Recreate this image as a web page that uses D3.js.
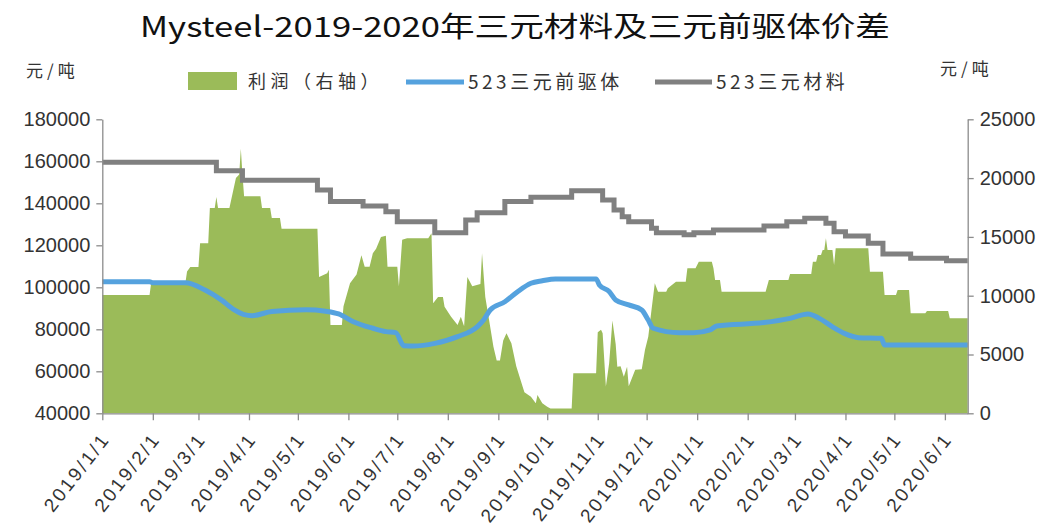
<!DOCTYPE html>
<html><head><meta charset="utf-8">
<script src="https://cdn.jsdelivr.net/npm/d3@7"></script>
<style>body{margin:0;background:#fff} svg{display:block}</style>
</head><body>
<svg id="c" width="1052" height="529"></svg>
<script>
const titleText = "Mysteel-2019-2020年三元材料及三元前驱体价差";
const seriesNames = ["利润（右轴）", "523三元前驱体", "523三元材料"];
const unitText = "元/吨";
const xTickDates = ["2019-01-01","2019-02-01","2019-03-01","2019-04-01","2019-05-01","2019-06-01","2019-07-01","2019-08-01","2019-09-01","2019-10-01","2019-11-01","2019-12-01","2020-01-01","2020-02-01","2020-03-01","2020-04-01","2020-05-01","2020-06-01"];
const xTickLabels = ["2019/1/1","2019/2/1","2019/3/1","2019/4/1","2019/5/1","2019/6/1","2019/7/1","2019/8/1","2019/9/1","2019/10/1","2019/11/1","2019/12/1","2020/1/1","2020/2/1","2020/3/1","2020/4/1","2020/5/1","2020/6/1"];
const leftTicks = [40000,60000,80000,100000,120000,140000,160000,180000];
const rightTicks = [0,5000,10000,15000,20000,25000];
const dateDomain = ["2019-01-01","2020-06-15"];

// 利润（右轴）
const profitSeries = [
["2019-01-01",10050],["2019-01-30",10050],["2019-01-31",11100],["2019-02-21",11100],["2019-02-22",12050],["2019-02-24",12450],
["2019-03-01",12450],["2019-03-02",14450],["2019-03-07",14450],["2019-03-08",17450],["2019-03-11",17450],["2019-03-12",18400],
["2019-03-13",17450],["2019-03-20",17450],["2019-03-24",20000],["2019-03-26",20300],["2019-03-27",22500],["2019-03-28",20300],
["2019-03-29",18450],["2019-04-08",18450],["2019-04-09",17450],["2019-04-14",17450],["2019-04-15",16600],["2019-04-20",16600],
["2019-04-21",15700],["2019-05-13",15700],["2019-05-14",11600],["2019-05-19",11900],["2019-05-20",12200],["2019-05-21",7500],
["2019-05-28",7500],["2019-05-29",9100],["2019-06-02",11050],["2019-06-06",11800],["2019-06-09",13450],["2019-06-11",12470],
["2019-06-14",12470],["2019-06-16",13600],["2019-06-18",14000],["2019-06-21",15000],["2019-06-24",15100],["2019-06-25",12470],
["2019-07-01",12470],["2019-07-02",10800],["2019-07-04",14750],["2019-07-07",14880],["2019-07-20",14880],["2019-07-22",15300],
["2019-07-23",9350],["2019-07-26",9900],["2019-07-29",9900],["2019-07-30",9070],["2019-08-03",8200],["2019-08-07",7500],
["2019-08-09",8200],["2019-08-11",7400],["2019-08-13",11600],["2019-08-16",10800],["2019-08-21",11000],["2019-08-22",13600],
["2019-08-24",9900],["2019-08-26",8200],["2019-08-29",5650],["2019-08-31",4500],["2019-09-02",4500],["2019-09-04",6200],
["2019-09-06",6800],["2019-09-09",5950],["2019-09-12",4000],["2019-09-17",1800],["2019-09-21",1400],["2019-09-24",850],
["2019-09-25",1560],["2019-09-28",850],["2019-10-01",560],["2019-10-03",400],["2019-10-16",400],["2019-10-17",3400],
["2019-10-31",3400],["2019-11-01",6900],["2019-11-03",7100],["2019-11-04",6800],["2019-11-06",2270],["2019-11-08",4250],
["2019-11-10",7900],["2019-11-12",5900],["2019-11-13",3960],["2019-11-15",4000],["2019-11-17",3100],["2019-11-19",3960],
["2019-11-20",2300],["2019-11-24",3700],["2019-11-28",3750],["2019-11-30",5400],["2019-12-02",6500],["2019-12-04",8800],
["2019-12-06",11050],["2019-12-08",10340],["2019-12-13",10340],["2019-12-14",10630],["2019-12-19",11190],["2019-12-25",11190],
["2019-12-26",12330],["2019-12-31",12330],["2020-01-02",12890],["2020-01-10",12890],["2020-01-11",12330],["2020-01-12",11340],
["2020-01-15",11340],["2020-01-16",10340],["2020-02-12",10340],["2020-02-14",11340],["2020-02-26",11340],["2020-02-27",11850],
["2020-03-11",11850],["2020-03-12",12890],["2020-03-14",12890],["2020-03-15",13460],["2020-03-17",13460],["2020-03-18",13890],
["2020-03-19",13890],["2020-03-20",14880],["2020-03-21",13890],["2020-03-24",13890],["2020-03-25",12610],["2020-03-26",14030],
["2020-04-15",14030],["2020-04-16",12040],["2020-04-24",12040],["2020-04-25",10060],["2020-05-02",10060],["2020-05-03",10490],
["2020-05-10",10490],["2020-05-11",8500],["2020-05-20",8500],["2020-05-21",8700],["2020-06-03",8700],["2020-06-04",8080],
["2020-06-15",8080]
];

// 523三元前驱体（左轴）
const precursorSeries = [
["2019-01-01",102700],["2019-01-30",102700],["2019-02-01",102200],["2019-02-21",102200],["2019-03-05",98700],["2019-03-15",94000],
["2019-03-23",89200],["2019-03-29",87000],["2019-04-03",86500],["2019-04-15",88500],["2019-05-06",89300],["2019-05-18",88600],
["2019-05-26",87300],["2019-06-04",83600],["2019-06-16",80500],["2019-06-24",78900],["2019-06-30",78400],["2019-07-05",72200],
["2019-07-11",72000],["2019-07-24",73300],["2019-08-07",76500],["2019-08-19",81200],["2019-08-23",84400],["2019-08-27",89200],
["2019-09-05",93100],["2019-09-13",98000],["2019-09-21",101900],["2019-09-28",103100],["2019-10-06",104000],["2019-10-31",104000],
["2019-11-02",101100],["2019-11-08",98000],["2019-11-12",94000],["2019-11-20",91600],["2019-11-28",89200],["2019-12-02",84400],
["2019-12-05",80500],["2019-12-21",78400],["2019-12-30",78400],["2020-01-09",79700],["2020-01-13",81600],["2020-02-11",83200],
["2020-02-27",85200],["2020-03-09",87300],["2020-03-16",85200],["2020-03-24",81200],["2020-04-01",77800],["2020-04-09",76000],
["2020-04-23",75700],["2020-04-25",72500],["2020-06-15",72500]
];

// 523三元材料（左轴）
const materialSeries = [
["2019-01-01",159500],["2019-03-12",155500],["2019-03-28",151000],["2019-05-13",146300],["2019-05-21",140800],["2019-06-10",138700],
["2019-06-24",136000],["2019-07-01",131200],["2019-07-24",126000],["2019-08-12",132000],["2019-08-19",135500],["2019-09-05",140800],
["2019-09-21",142900],["2019-10-16",146000],["2019-11-04",141600],["2019-11-11",136800],["2019-11-16",133600],["2019-11-20",131200],
["2019-12-04",128100],["2019-12-07",126000],["2019-12-24",125000],["2019-12-30",126000],["2020-01-11",127300],["2020-02-11",129200],
["2020-02-25",131200],["2020-03-07",132900],["2020-03-20",130500],["2020-03-25",126500],["2020-04-01",124400],["2020-04-15",121000],
["2020-04-24",115900],["2020-05-11",113800],["2020-06-02",112700],["2020-06-15",112700]
];

const colors = {profit:"#9BBB59", precursor:"#55A2DE", material:"#808080", axis:"#8C8C8C", text:"#333333"};
const parse = d3.timeParse("%Y-%m-%d");
const toObj = s => s.map(([d,v]) => ({date: parse(d), v}));
const profit = toObj(profitSeries), precursor = toObj(precursorSeries), material = toObj(materialSeries);

const svg = d3.select("#c");
const L = 102.3, R = 967.7, T = 119.3, B = 413.3;
const x = d3.scaleTime().domain(dateDomain.map(parse)).range([L, R]);
const yL = d3.scaleLinear().domain([40000,180000]).range([B, T]);
const yR = d3.scaleLinear().domain([0,25000]).range([B, T]);

const font = "'Liberation Sans', Arial, sans-serif";
const cjk = "'Noto Sans CJK SC', 'Noto Sans', sans-serif";

// Title
svg.append("text").attr("x", 140).attr("y", 37)
  .attr("textLength", 750).attr("lengthAdjust", "spacingAndGlyphs")
  .attr("font-family", cjk).attr("font-size", 28).attr("font-weight", 400).attr("fill", "#111")
  .text(titleText);

// Units
svg.append("text").attr("x", 26).attr("y", 77).attr("font-family", cjk).attr("font-size", 17).attr("letter-spacing", 4).attr("fill", colors.text).text(unitText);
svg.append("text").attr("x", 940).attr("y", 75).attr("font-family", cjk).attr("font-size", 17).attr("letter-spacing", 4).attr("fill", colors.text).text(unitText);

// Area
svg.append("path").datum(profit)
  .attr("fill", colors.profit)
  .attr("d", d3.area().x(d => x(d.date)).y0(yR(0)).y1(d => yR(d.v)));

// Lines
svg.append("path").datum(precursor)
  .attr("fill", "none").attr("stroke", colors.precursor).attr("stroke-width", 5).attr("stroke-linejoin", "round")
  .attr("d", d3.line().x(d => x(d.date)).y(d => yL(d.v)).curve(d3.curveMonotoneX));
svg.append("path").datum(material)
  .attr("fill", "none").attr("stroke", colors.material).attr("stroke-width", 5)
  .attr("d", d3.line().x(d => x(d.date)).y(d => yL(d.v)).curve(d3.curveStepAfter));

// Axes
function styleAxis(g){
  g.select(".domain").attr("stroke", colors.axis).attr("stroke-width", 1.3);
  g.selectAll(".tick line").attr("stroke", colors.axis).attr("stroke-width", 1.3);
  g.selectAll(".tick text").attr("fill", colors.text).attr("font-family", font).attr("font-size", 20);
}
svg.append("g").attr("transform", `translate(${L},0)`)
  .call(d3.axisLeft(yL).tickValues(leftTicks).tickSize(6).tickSizeOuter(0).tickPadding(6).tickFormat(d3.format("d")))
  .call(styleAxis);
svg.append("g").attr("transform", `translate(${R},0)`)
  .call(d3.axisRight(yR).tickValues(rightTicks).tickSize(6).tickSizeOuter(0).tickPadding(6).tickFormat(d3.format("d")))
  .call(styleAxis);
const xAxis = svg.append("g").attr("transform", `translate(0,${B})`)
  .call(d3.axisBottom(x).tickValues(xTickDates.map(parse)).tickSize(7).tickSizeOuter(0).tickFormat((d,i) => xTickLabels[i]))
  .call(styleAxis);
xAxis.selectAll(".tick text")
  .attr("text-anchor", "end").attr("dy", 0).attr("y", 0)
  .attr("transform", "translate(8,26) rotate(-52)")
  .attr("font-size", 19).attr("letter-spacing", 2.5);

// Legend
const lg = svg.append("g");
lg.append("rect").attr("x", 188).attr("y", 72).attr("width", 49).attr("height", 18).attr("fill", colors.profit);
lg.append("text").attr("x", 248).attr("y", 88).attr("font-family", cjk).attr("font-size", 18).attr("letter-spacing", 4.5).attr("fill", colors.text).text(seriesNames[0]);
lg.append("line").attr("x1", 406).attr("x2", 464).attr("y1", 82).attr("y2", 82).attr("stroke", colors.precursor).attr("stroke-width", 5);
lg.append("text").attr("x", 468).attr("y", 89).attr("font-family", cjk).attr("font-size", 19).attr("letter-spacing", 3.5).attr("fill", colors.text).text(seriesNames[1]);
lg.append("line").attr("x1", 655).attr("x2", 712).attr("y1", 82).attr("y2", 82).attr("stroke", colors.material).attr("stroke-width", 5);
lg.append("text").attr("x", 716).attr("y", 89).attr("font-family", cjk).attr("font-size", 19).attr("letter-spacing", 3.5).attr("fill", colors.text).text(seriesNames[2]);
</script>
</body></html>
